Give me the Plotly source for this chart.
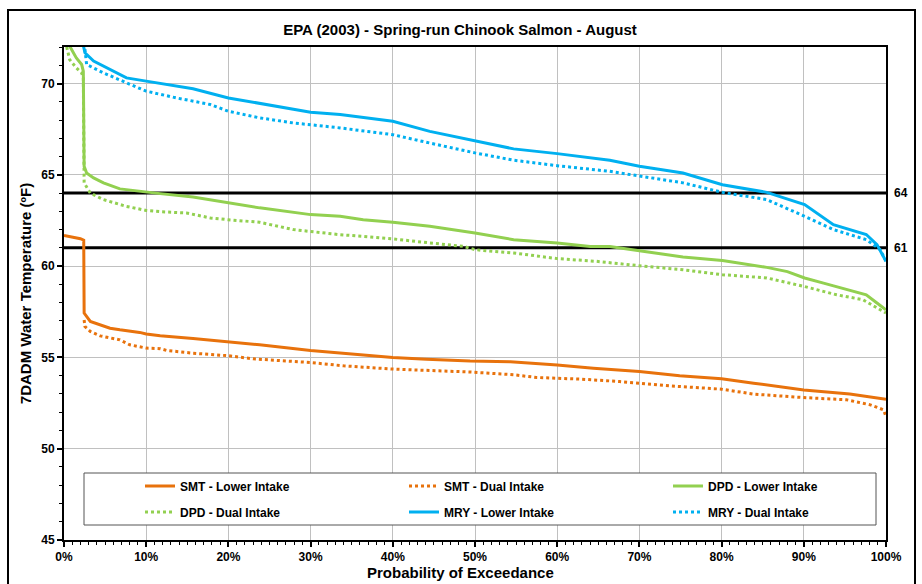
import plotly.graph_objects as go

# ---------------- data ----------------
smt_lower_x = [0, 1.0, 2.0, 2.4, 2.45, 3.2, 4.4, 5.6, 6.8, 9.2, 10, 11.7, 15.7, 20, 23.8, 30, 34, 40, 44.1, 49.4,
               54.3, 60, 64.4, 70, 74.9, 80, 83.9, 90, 95.6, 98.5, 100]
smt_lower_y = [61.68, 61.6, 61.5, 61.42, 57.43, 56.97, 56.79, 56.6, 56.51, 56.37, 56.28, 56.18, 56.04, 55.87, 55.69,
               55.38, 55.23, 55.0, 54.9, 54.8, 54.76, 54.59, 54.41, 54.23, 53.99, 53.83, 53.59, 53.22, 53.0, 52.82, 52.71]

smt_dual_x = [2.45, 2.55, 3.2, 4.4, 6.8, 8.0, 10, 11.7, 12.5, 15.7, 20, 23, 30, 34, 40, 49.4, 54.7, 57.5, 62.8,
              67.6, 73.7, 80, 83.9, 90, 95.2, 98.1, 99.7, 100]
smt_dual_y = [57.05, 56.69, 56.42, 56.18, 55.96, 55.69, 55.51, 55.48, 55.38, 55.23, 55.09, 54.92, 54.72, 54.54,
              54.36, 54.2, 54.05, 53.9, 53.81, 53.68, 53.44, 53.26, 52.99, 52.8, 52.68, 52.4, 52.13, 51.76]

dpd_lower_x = [0, 0.7, 1.5, 2.15, 2.35, 2.45, 2.75, 3.6, 4.8, 6.8, 9.2, 11.7, 15.7, 20, 23.8, 30, 33.6, 36.4, 40,
               44.5, 50, 54.7, 60, 64, 66.4, 70, 75.3, 80.1, 85.5, 88, 90.1, 92.4, 95.2, 97.6, 98.9, 100]
dpd_lower_y = [72.6, 72.05, 71.4, 71.04, 70.67, 65.47, 65.1, 64.83, 64.56, 64.23, 64.1, 63.97, 63.79, 63.46, 63.19,
               62.82, 62.73, 62.54, 62.4, 62.18, 61.81, 61.45, 61.27, 61.08, 61.07, 60.84, 60.5, 60.31, 59.93,
               59.7, 59.35, 59.07, 58.71, 58.43, 57.98, 57.6]

dpd_dual_x = [0, 0.3, 0.7, 1.5, 2.15, 2.35, 2.45, 3.2, 4.8, 7.6, 10, 11.7, 14.9, 17.8, 20, 23.8, 27.9, 30, 33.6,
              36.4, 40, 44.5, 48.6, 50, 54.7, 60, 64.8, 70, 75.3, 80.1, 85.5, 90, 94, 97.2, 100]
dpd_dual_y = [72.3, 72.05, 71.3, 70.86, 70.58, 70.3, 64.56, 64.0, 63.64, 63.27, 63.05, 62.98, 62.91, 62.64, 62.54,
              62.4, 62.0, 61.9, 61.72, 61.63, 61.49, 61.27, 61.08, 60.9, 60.72, 60.41, 60.26, 60.02, 59.8, 59.53,
              59.35, 58.89, 58.43, 58.16, 57.43]

mry_lower_x = [2.2, 2.35, 2.55, 3.6, 5.6, 7.6, 10, 11.7, 15.7, 20, 23.8, 30, 33.6, 40, 44.5, 50, 54.7, 60, 66.4,
               70, 75.3, 80.1, 85.5, 90.1, 93.6, 97.6, 98.9, 100]
mry_lower_y = [72.4, 72.05, 71.68, 71.23, 70.77, 70.31, 70.13, 70.0, 69.71, 69.21, 68.9, 68.43, 68.3, 67.93, 67.38,
               66.84, 66.42, 66.16, 65.8, 65.47, 65.1, 64.46, 64.04, 63.37, 62.27, 61.73, 61.18, 60.26]

mry_dual_x = [2.4, 2.55, 2.75, 4.8, 7.6, 10, 13.7, 17.8, 20, 23.8, 27.9, 30, 33.6, 36.8, 40, 44.5, 50, 54.7, 60,
              66.4, 70, 75.3, 80.1, 85.5, 90.1, 93.6, 97.6, 99.3, 100]
mry_dual_y = [72.2, 71.86, 71.04, 70.58, 70.04, 69.58, 69.21, 68.85, 68.48, 68.12, 67.84, 67.75, 67.57, 67.38,
              67.2, 66.74, 66.2, 65.8, 65.5, 65.19, 64.92, 64.56, 64.04, 63.64, 62.73, 62.0, 61.45, 60.9, 60.26]

thresholds = [64, 61]
threshold_labels = ["64", "61"]

series_names = ["SMT - Lower Intake", "SMT - Dual Intake", "DPD - Lower Intake",
                "DPD - Dual Intake", "MRY - Lower Intake", "MRY - Dual Intake"]
series_x = [smt_lower_x, smt_dual_x, dpd_lower_x, dpd_dual_x, mry_lower_x, mry_dual_x]
series_y = [smt_lower_y, smt_dual_y, dpd_lower_y, dpd_dual_y, mry_lower_y, mry_dual_y]
series_colors = ["#E8720C", "#E8720C", "#92D050", "#92D050", "#00B0F0", "#00B0F0"]
series_dash = ["solid", "dot", "solid", "dot", "solid", "dot"]

FONT = "Liberation Sans, Arial, sans-serif"

# plot-area pixel geometry (for placing the legend grid)
L, R, T, B = 64, 886, 47, 540
PW, PH = R - L, B - T
def px_x(p):
    return (p - L) / PW
def px_y(p):
    return (B - p) / PH

fig = go.Figure()

# threshold lines (drawn first, beneath curves)
for t in thresholds:
    fig.add_trace(go.Scatter(x=[0, 100], y=[t, t], mode="lines",
                             line=dict(color="black", width=3), showlegend=False, hoverinfo="skip"))

legend_cols = [140, 404, 668]
legend_rows = [486, 512]
layout_legends = {}
for i, (name, xs, ys, col, dash) in enumerate(zip(series_names, series_x, series_y, series_colors, series_dash)):
    key = "legend" if i == 0 else "legend%d" % (i + 1)
    fig.add_trace(go.Scatter(x=xs, y=ys, name="<b>%s</b>" % name, mode="lines",
                             line=dict(color=col, width=3, dash=dash), legend=key))
    layout_legends[key] = dict(x=px_x(legend_cols[i % 3]), y=px_y(legend_rows[i // 3]),
                               xanchor="left", yanchor="middle", bgcolor="rgba(0,0,0,0)", borderwidth=0,
                               font=dict(size=12, color="black", family=FONT), itemwidth=30)

for t, lab in zip(thresholds, threshold_labels):
    fig.add_annotation(x=1, xref="paper", y=t, yref="y", text="<b>%s</b>" % lab, showarrow=False,
                       xanchor="left", xshift=6, font=dict(size=12, color="black", family=FONT))

# x-axis title (centred on the chart frame, as in the reference)
fig.add_annotation(x=px_x(460), xref="paper", y=px_y(572), yref="paper", text="<b>Probability of Exceedance</b>",
                   showarrow=False, xanchor="center", yanchor="middle", font=dict(size=15, family=FONT, color="black"))

# outer frame
fig.add_shape(type="rect", xref="paper", yref="paper", x0=px_x(8), x1=px_x(915), y0=px_y(600), y1=px_y(10),
              line=dict(color="black", width=2), fillcolor="rgba(0,0,0,0)", layer="above")
# legend box
fig.add_shape(type="rect", xref="paper", yref="paper", x0=px_x(84), x1=px_x(876), y0=px_y(525), y1=px_y(473),
              line=dict(color="#555555", width=1), fillcolor="white", layer="above")

fig.update_layout(
    width=922, height=584,
    margin=dict(l=L, r=922 - R, t=T, b=584 - B),
    paper_bgcolor="white", plot_bgcolor="white",
    font=dict(family=FONT, color="black"),
    title=dict(text="<b>EPA (2003) - Spring-run Chinook Salmon - August</b>", x=460 / 922, xref="container",
               xanchor="center", y=1 - 30 / 584, yanchor="middle", font=dict(size=15, family=FONT)),
    xaxis=dict(range=[0, 100], dtick=10, tick0=0, ticksuffix="%", showgrid=True, gridcolor="#C0C0C0",
               gridwidth=1, zeroline=False, showline=True, linecolor="black", linewidth=2, mirror=True,
               ticks="outside", ticklen=5, tickwidth=2, tickcolor="black",
               minor=dict(dtick=1, ticks="outside", ticklen=3, tickcolor="black", tickwidth=1, showgrid=False),
               tickfont=dict(size=12, family=FONT), tickprefix="<b>"),
    yaxis=dict(range=[45, 72], dtick=5, tick0=45, showgrid=True, gridcolor="#C0C0C0", gridwidth=1,
               zeroline=False, showline=True, linecolor="black", linewidth=2, mirror=True,
               ticks="outside", ticklen=5, tickwidth=2, tickcolor="black",
               minor=dict(dtick=1, ticks="outside", ticklen=3, tickcolor="black", tickwidth=1, showgrid=False),
               tickfont=dict(size=12, family=FONT), tickprefix="<b>",
               title=dict(text="<b>7DADM Water Temperature (ºF)</b>", font=dict(size=15, family=FONT), standoff=6)),
    **layout_legends,
)

fig.write_html("out.html")
